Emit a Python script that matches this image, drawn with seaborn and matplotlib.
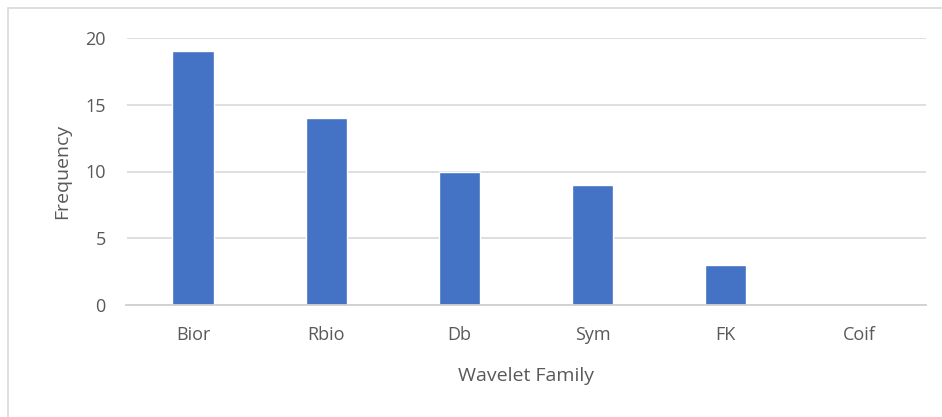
import matplotlib
matplotlib.use("Agg")
import matplotlib.pyplot as plt
import seaborn as sns
import pandas as pd

# Data
families = ["Bior", "Rbio", "Db", "Sym", "FK", "Coif"]
frequency = [19, 14, 10, 9, 3, 0]
y_ticks = [0, 5, 10, 15, 20]

df = pd.DataFrame({"Wavelet Family": families, "Frequency": frequency})

sns.set_theme(style="white")
plt.rcParams["font.family"] = ["Open Sans", "DejaVu Sans"]

W, H = 942, 417
fig = plt.figure(figsize=(W / 100, H / 100), dpi=100)
ax = fig.add_axes([126.5 / W, 1 - 305 / H, 799 / W, 267 / H])

sns.barplot(data=df, x="Wavelet Family", y="Frequency", ax=ax,
            color="#4472C4", saturation=1, width=0.31)

ax.set_ylim(0, 20)
ax.set_yticks(y_ticks)
ax.grid(axis="y", color="#d9d9d9", linewidth=1.2)
ax.set_axisbelow(True)
for s in ["top", "right", "left"]:
    ax.spines[s].set_visible(False)
ax.spines["bottom"].set_color("#d0d0d0")
ax.spines["bottom"].set_linewidth(1.3)
ax.tick_params(axis="both", length=0, labelsize=13, labelcolor="#595959")
ax.tick_params(axis="x", pad=15)
ax.tick_params(axis="y", pad=15)
ax.set_xlabel("Wavelet Family", fontsize=14, color="#595959", labelpad=17)
ax.set_ylabel("Frequency", fontsize=14, color="#595959", labelpad=10)

# light chart-area border (Excel style)
border = plt.Rectangle((8 / W, -0.05), 1.1, 1 - 8 / H + 0.05, transform=fig.transFigure,
                       fill=False, edgecolor="#d9d9d9", linewidth=1.2)
fig.patches.append(border)

fig.savefig("out.png", dpi=100)
